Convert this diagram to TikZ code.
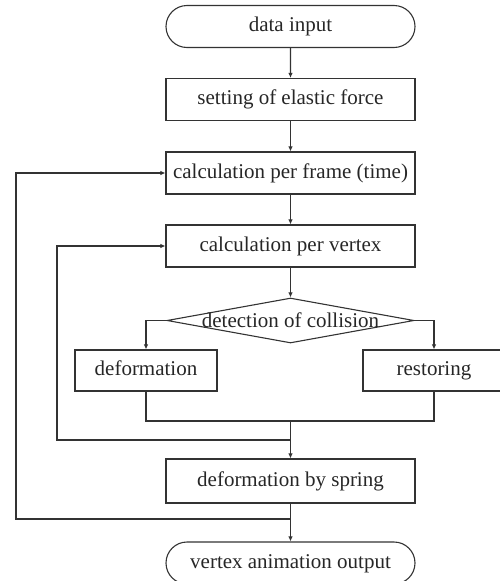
\documentclass[tikz,border=0pt]{standalone}
\usepackage{fontspec}
\setmainfont{Liberation Serif}
\usetikzlibrary{shapes.geometric,shapes.misc,arrows.meta}

\begin{document}
\begin{tikzpicture}[x=1pt,y=-1pt,
  box/.style={draw=black!80,line width=1.1pt,minimum width=249pt,minimum height=42pt,inner sep=0pt,text height=14.5pt,text depth=4.5pt},
  term/.style={box,rounded rectangle},
  small/.style={box,minimum width=142pt,minimum height=41pt},
  decision/.style={draw=black!80,line width=1.1pt,diamond,minimum width=247pt,minimum height=45pt,inner sep=0pt},
  line/.style={black!80,line width=1.1pt},
  arr/.style={line,-{Latex[length=5pt,width=4.5pt]}},
  font=\fontsize{21}{24}\selectfont,text=black!85]
\useasboundingbox (0,0) rectangle (499,581);
\node[term] (input) at (290.5,26.5) {data input};
\node[box] (elastic) at (290.5,99.5) {setting of elastic force};
\node[box] (frame) at (290.5,173) {calculation per frame (time)};
\node[box] (vertex) at (290.5,246) {calculation per vertex};
\node[decision,label={center:detection of collision}] (coll) at (290.5,320.5) {};
\node[small] (deform) at (146,370.5) {deformation};
\node[small] (rest) at (434,370.5) {restoring};
\node[box,minimum height=44pt] (spring) at (290.5,481) {deformation by spring};
\node[term] (output) at (290.5,563) {vertex animation output};
% joints and loop rails
\coordinate (j1) at (290.5,421);
\coordinate (j2) at (290.5,440);
\coordinate (j3) at (290.5,519);
\coordinate (rail2) at (57,440);
\coordinate (rail1) at (16,519);

\draw[arr] (input) -- (elastic);
\draw[arr] (elastic) -- (frame);
\draw[arr] (frame) -- (vertex);
\draw[arr] (vertex) -- (coll.north);
\draw[arr] (coll.west) -| (deform.north);
\draw[arr] (coll.east) -| (rest.north);
\draw[line] (deform.south) |- (j1) -| (rest.south);
\draw[arr] (j1) -- (spring.north);
\draw[arr] (j2) -- (rail2) |- (vertex.west);
\draw[arr] (spring) -- (output);
\draw[arr] (j3) -- (rail1) |- (frame.west);

\end{tikzpicture}
\end{document}
